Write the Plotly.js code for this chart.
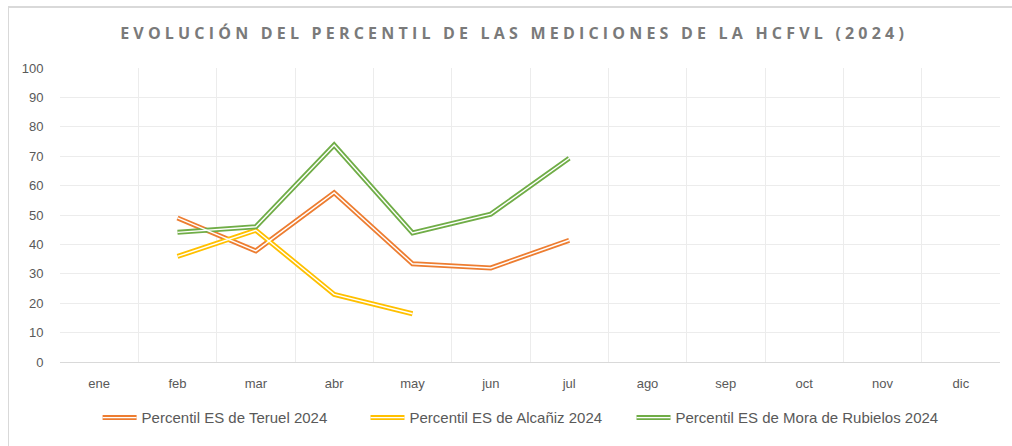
<!DOCTYPE html>
<html>
<head>
<meta charset="utf-8">
<script src="https://cdn.plot.ly/plotly-3.0.1.min.js"></script>
<style>
  html, body { margin: 0; padding: 0; background: #fff; }
  #wrap { position: relative; width: 1012px; height: 446px; overflow: hidden; }
  #frame { position: absolute; left: 8px; top: 6px; width: 1100px; height: 500px;
           border-left: 1px solid #d9d9d9; border-top: 2px solid #d9d9d9; box-sizing: border-box; pointer-events: none; }
  #chart { position: absolute; left: 0; top: 0; width: 1012px; height: 446px; }
  .gtitle { letter-spacing: 4.2px; }
</style>
</head>
<body>
<div id="wrap">
  <div id="chart"></div>
  <div id="frame"></div>
</div>
<script>
const months = ["ene","feb","mar","abr","may","jun","jul","ago","sep","oct","nov","dic"];
const teruelMonths = ["feb","mar","abr","may","jun","jul"];
const teruel = [49, 37.8, 57.6, 33.4, 32, 41.4];
const alcanizMonths = ["feb","mar","abr","may"];
const alcaniz = [35.9, 44.8, 23, 16.4];
const moraMonths = ["feb","mar","abr","may","jun","jul"];
const mora = [44.1, 46, 73.8, 43.9, 50.3, 69.3];
const seriesNames = ["Percentil ES de Teruel 2024", "Percentil ES de Alcañiz 2024", "Percentil ES de Mora de Rubielos 2024"];
const colors = ["#ED7D31", "#FFC000", "#70AD47"];

const sets = [[teruelMonths, teruel], [alcanizMonths, alcaniz], [moraMonths, mora]];
const legendIds = ["legend", "legend2", "legend3"];
const traces = [];
sets.forEach((s, i) => {
  traces.push({
    x: s[0], y: s[1], type: "scatter", mode: "lines", name: seriesNames[i],
    line: { color: colors[i], width: 5 }, hoverinfo: "skip", legend: legendIds[i]
  });
});
sets.forEach((s, i) => {
  traces.push({
    x: s[0], y: s[1], type: "scatter", mode: "lines", showlegend: false,
    line: { color: "#ffffff", width: 1.4 }, hoverinfo: "skip"
  });
});

const legendBase = {
  orientation: "h", xanchor: "left", y: -0.19, yanchor: "middle",
  font: { size: 15, color: "#595959" }, itemwidth: 34, bgcolor: "rgba(0,0,0,0)"
};
const layout = {
  width: 1012, height: 446,
  margin: { l: 60, r: 12, t: 68, b: 84 },
  paper_bgcolor: "#ffffff", plot_bgcolor: "#ffffff",
  font: { family: "'Liberation Sans', Arial, sans-serif", color: "#595959", size: 13 },
  title: {
    text: "EVOLUCIÓN DEL PERCENTIL DE LAS MEDICIONES DE LA HCFVL (2024)",
    font: { family: "'Open Sans', sans-serif", size: 16, color: "#7a7a7a", weight: 700 },
    x: 0.508, xanchor: "center", y: 0.925, yanchor: "middle"
  },
  xaxis: {
    type: "category", categoryorder: "array", categoryarray: months,
    tickvals: months, ticktext: months,
    range: [-0.5, 11.5], tickson: "boundaries", showgrid: true, gridcolor: "#ececec", gridwidth: 1,
    showline: true, linecolor: "#d9d9d9", linewidth: 1, ticks: "", ticklabelstandoff: 9,
    tickfont: { size: 13, color: "#595959" }, zeroline: false, fixedrange: true
  },
  yaxis: {
    range: [0, 100], dtick: 10, tick0: 0, showgrid: true, gridcolor: "#ececec", gridwidth: 1,
    zeroline: false, showline: false, ticks: "outside", ticklen: 13, tickcolor: "rgba(0,0,0,0)",
    tickfont: { size: 13, color: "#595959" }, fixedrange: true
  },
  showlegend: true,
  legend: Object.assign({}, legendBase, { x: 0.040 }),
  legend2: Object.assign({}, legendBase, { x: 0.325 }),
  legend3: Object.assign({}, legendBase, { x: 0.608 })
};

Plotly.newPlot("chart", traces, layout, { displayModeBar: false, staticPlot: true }).then(gd => {
  // double-line swatches in legend, matching the compound line style
  gd.querySelectorAll(".legendlines path").forEach(p => {
    const c = p.cloneNode(true);
    c.style.stroke = "#ffffff";
    c.style.strokeWidth = "1.4px";
    p.parentNode.appendChild(c);
  });
});
</script>
</body>
</html>
